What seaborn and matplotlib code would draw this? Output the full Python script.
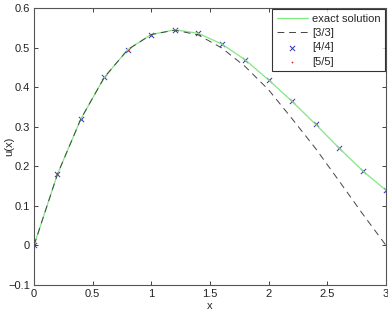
import numpy as np
import pandas as pd
import seaborn as sns
import matplotlib.pyplot as plt

# data
x = [0.0, 0.2, 0.4, 0.6, 0.8, 1.0, 1.2, 1.4, 1.6, 1.8, 2.0, 2.2, 2.4, 2.6, 2.8, 3.0]
exact = [0.0, 0.18, 0.32, 0.425, 0.495, 0.533, 0.545, 0.536, 0.509, 0.469,
         0.418, 0.364, 0.306, 0.246, 0.189, 0.139]
pade33 = [0.0, 0.18, 0.32, 0.425, 0.495, 0.533, 0.544, 0.532, 0.499, 0.452,
          0.393, 0.32, 0.245, 0.163, 0.08, 0.0]
pade44 = [0.0, 0.18, 0.32, 0.425, 0.495, 0.533, 0.545, 0.536, 0.509, 0.469,
          0.418, 0.364, 0.306, 0.246, 0.189, 0.139]
pade55 = [0.0, 0.18, 0.32, 0.425, 0.495, 0.533, 0.545, 0.536, 0.509, 0.469,
          0.418, 0.364, 0.306, 0.246, 0.189, 0.136]

df = pd.DataFrame({"x": x, "exact": exact, "p33": pade33, "p44": pade44, "p55": pade55})

sns.set_style("ticks")
plt.rcParams['font.family'] = ['Liberation Sans', 'DejaVu Sans']
plt.rcParams['font.size'] = 8
plt.rcParams['xtick.direction'] = 'in'
plt.rcParams['ytick.direction'] = 'in'

fig = plt.figure(figsize=(3.88, 3.13), dpi=100)
ax = fig.add_axes([34/388, 1-285/313, 352/388, 277/313])

sns.lineplot(data=df, x="x", y="exact", ax=ax, color="#80e880", lw=0.9, label="exact solution")
sns.lineplot(data=df, x="x", y="p33", ax=ax, color="#444444", lw=0.7, label="[3/3]",
             linestyle=(0, (7, 5)))
sns.scatterplot(data=df, x="x", y="p44", ax=ax, color="#3030c0", marker="x", s=14,
                linewidth=0.7, label="[4/4]")
sns.scatterplot(data=df, x="x", y="p55", ax=ax, color="#d02020", marker=".", s=6,
                linewidth=0, label="[5/5]")

ax.set_xlim(0, 3)
ax.set_ylim(-0.1, 0.6)
ax.set_xticks([0, 0.5, 1, 1.5, 2, 2.5, 3])
ax.set_xticklabels(["0", "0.5", "1", "1.5", "2", "2.5", "3"])
ax.set_yticks([-0.1, 0, 0.1, 0.2, 0.3, 0.4, 0.5, 0.6])
ax.set_yticklabels(["\u22120.1", "0", "0.1", "0.2", "0.3", "0.4", "0.5", "0.6"])
ax.tick_params(top=True, right=True, length=3, width=0.6, colors="#222222", pad=3)
for s in ax.spines.values():
    s.set_linewidth(0.8)
    s.set_color("#555555")
    s.set_visible(True)
ax.set_xlabel("x", labelpad=1)
ax.set_ylabel("u(x)")
ax.yaxis.set_label_coords(-0.055, 0.5)

leg = ax.legend(loc="upper right", frameon=True, fancybox=False, fontsize=8,
                borderaxespad=0.1, handlelength=2.8, borderpad=0.4, labelspacing=0.4,
                handletextpad=0.35)
leg.get_frame().set_edgecolor("black")
leg.get_frame().set_linewidth(0.8)

fig.savefig("out.png", dpi=100)
